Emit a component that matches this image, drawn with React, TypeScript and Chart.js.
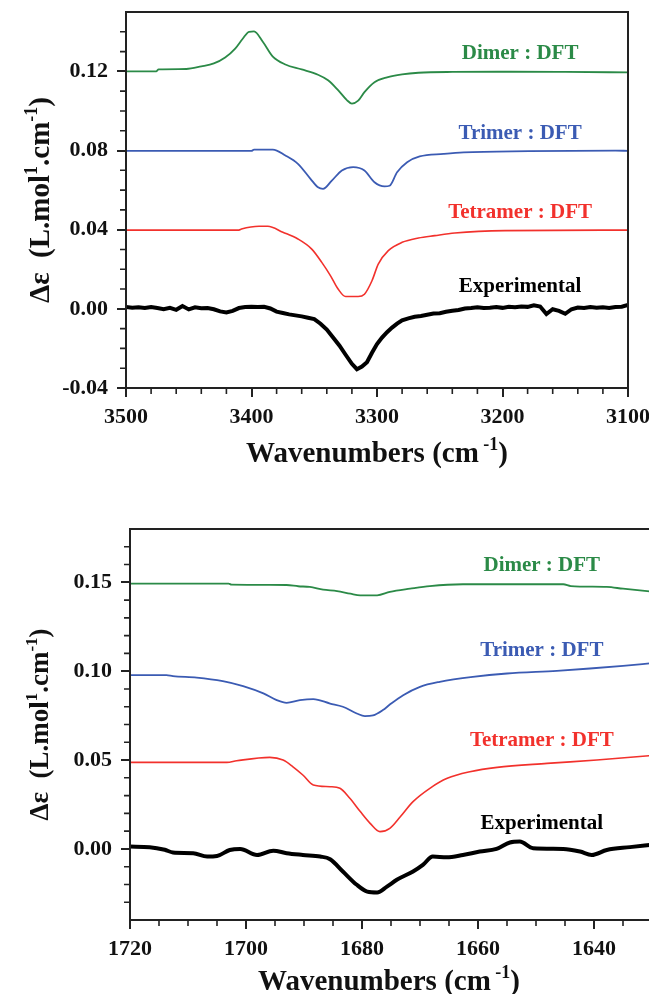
import React, { useEffect, useRef } from "react";
import { Chart, registerables } from "chart.js";
Chart.register(...registerables);

const FONT = '"Liberation Serif", "Times New Roman", serif';

// ---------- Top chart (3500 - 3100 cm-1) ----------
const topDimerX = [3500, 3476, 3474, 3452, 3440, 3430, 3421, 3413, 3407, 3402, 3398, 3391, 3383, 3373, 3360, 3347, 3339, 3331, 3324, 3320, 3315, 3310, 3302, 3292, 3280, 3267, 3240, 3194, 3150, 3100];
const topDimerY = [0.1200, 0.1200, 0.1210, 0.1212, 0.1225, 0.1240, 0.1270, 0.1315, 0.1365, 0.1400, 0.1402, 0.1350, 0.1275, 0.1235, 0.1210, 0.1183, 0.1155, 0.1105, 0.1055, 0.1037, 0.1052, 0.1095, 0.1145, 0.1170, 0.1185, 0.1193, 0.1197, 0.1198, 0.1197, 0.1195];

const topTrimerX = [3500, 3400, 3398, 3383, 3373, 3363, 3353, 3347, 3343, 3336, 3328, 3319, 3310, 3302, 3294, 3290, 3284, 3276, 3266, 3247, 3231, 3179, 3110, 3100];
const topTrimerY = [0.0798, 0.0798, 0.0805, 0.0805, 0.0775, 0.0733, 0.0657, 0.0614, 0.0606, 0.0648, 0.0699, 0.0716, 0.0699, 0.0640, 0.0619, 0.0622, 0.0690, 0.0741, 0.0770, 0.0783, 0.0791, 0.0797, 0.0800, 0.0798];

const topTetramerX = [3500, 3410, 3408, 3394, 3387, 3375, 3363, 3352, 3344, 3337, 3331, 3325, 3315, 3310, 3304, 3299, 3291, 3280, 3267, 3254, 3238, 3198, 3100];
const topTetramerY = [0.0398, 0.0398, 0.0403, 0.0417, 0.0417, 0.0387, 0.0353, 0.0302, 0.0235, 0.0167, 0.0100, 0.0062, 0.0062, 0.0074, 0.0142, 0.0226, 0.0294, 0.0336, 0.0358, 0.0370, 0.0383, 0.0395, 0.0398];

const topExpX = [3500, 3495, 3490, 3485, 3480, 3475, 3470, 3465, 3460, 3455, 3450, 3445, 3440, 3435, 3430, 3425, 3420, 3415, 3410, 3405, 3400, 3395, 3390, 3385, 3380, 3375, 3370, 3365, 3360, 3355, 3350, 3345, 3340, 3335, 3330, 3325, 3320, 3316, 3312, 3308, 3304, 3300, 3296, 3292, 3288, 3284, 3280, 3275, 3270, 3265, 3260, 3255, 3250, 3245, 3240, 3235, 3230, 3225, 3220, 3215, 3210, 3205, 3200, 3195, 3190, 3185, 3180, 3175, 3170, 3165, 3160, 3155, 3150, 3145, 3140, 3135, 3130, 3125, 3120, 3115, 3110, 3105, 3100];
const topExpY = [0.0010, 0.0006, 0.0008, 0.0004, 0.0009, 0.0004, -0.0002, 0.0005, -0.0005, 0.0014, -0.0003, 0.0008, 0.0003, 0.0004, -0.0002, -0.0013, -0.0018, -0.0010, 0.0004, 0.0009, 0.0011, 0.0009, 0.0010, 0.0002, -0.0014, -0.0021, -0.0028, -0.0033, -0.0038, -0.0045, -0.0052, -0.0075, -0.0105, -0.0145, -0.0185, -0.0232, -0.0278, -0.0305, -0.0292, -0.0270, -0.0222, -0.0178, -0.0145, -0.0118, -0.0095, -0.0075, -0.0058, -0.0048, -0.0040, -0.0036, -0.0030, -0.0024, -0.0022, -0.0015, -0.0010, -0.0006, 0.0002, 0.0004, 0.0008, 0.0004, 0.0006, 0.0009, 0.0005, 0.0011, 0.0008, 0.0012, 0.0010, 0.0018, 0.0012, -0.0026, -0.0002, -0.0010, -0.0025, -0.0002, 0.0007, 0.0004, 0.0009, 0.0005, 0.0008, 0.0004, 0.0009, 0.0011, 0.0020];

const topXMajor = [3500, 3400, 3300, 3200, 3100];
const topXMinor = [3480, 3460, 3440, 3420, 3380, 3360, 3340, 3320, 3280, 3260, 3240, 3220, 3180, 3160, 3140, 3120];
const topYMajor = [-0.04, 0.0, 0.04, 0.08, 0.12];
const topYMinor = [-0.03, -0.02, -0.01, 0.01, 0.02, 0.03, 0.05, 0.06, 0.07, 0.09, 0.10, 0.11, 0.13, 0.14];

// ---------- Bottom chart (1720 - 1630 cm-1) ----------
const botDimerX = [1720, 1703, 1702.5, 1693, 1691, 1689, 1686.7, 1684.3, 1682, 1680.3, 1677.4, 1675.2, 1671.7, 1668.3, 1662.6, 1645.3, 1644, 1637.8, 1635, 1630];
const botDimerY = [0.1493, 0.1493, 0.1487, 0.1485, 0.1478, 0.1474, 0.1459, 0.1451, 0.1436, 0.1427, 0.1427, 0.1446, 0.1464, 0.1479, 0.1489, 0.1489, 0.1479, 0.1474, 0.1464, 0.1448];

const botTrimerX = [1720, 1713.7, 1712.6, 1708.5, 1704, 1700.5, 1697, 1694.7, 1693, 1690.7, 1688.4, 1685.5, 1683.3, 1680.9, 1679.5, 1678.1, 1676.4, 1675.2, 1672.9, 1670, 1666.6, 1660.9, 1655, 1646.4, 1640.7, 1635, 1630];
const botTrimerY = [0.0978, 0.0978, 0.0972, 0.0964, 0.0944, 0.0916, 0.0875, 0.0837, 0.0822, 0.0837, 0.0843, 0.0818, 0.0800, 0.0762, 0.0747, 0.0751, 0.0781, 0.0812, 0.0865, 0.0912, 0.0940, 0.0968, 0.0987, 0.1002, 0.1015, 0.1030, 0.1045];

const botTetramerX = [1720, 1703.3, 1701.6, 1695.9, 1693.6, 1691.9, 1690.2, 1688.4, 1685.5, 1683.8, 1682.1, 1680.3, 1678.6, 1676.9, 1675.2, 1673.4, 1671.2, 1668.3, 1665.3, 1661.4, 1656.7, 1648.1, 1639.5, 1630];
const botTetramerY = [0.0487, 0.0487, 0.0496, 0.0515, 0.0500, 0.0462, 0.0416, 0.0360, 0.0350, 0.0341, 0.0285, 0.0210, 0.0144, 0.0097, 0.0116, 0.0181, 0.0266, 0.0341, 0.0397, 0.0434, 0.0459, 0.0481, 0.0500, 0.0526];

const botExpX = [1720, 1716.6, 1714, 1712.6, 1709.1, 1706.7, 1705, 1702.8, 1701, 1698.1, 1695.3, 1693, 1690.2, 1687.2, 1685.5, 1683.3, 1680.9, 1679.1, 1677.4, 1675.7, 1674, 1671.2, 1669.5, 1667.8, 1665.4, 1662.6, 1659.7, 1656.8, 1654.5, 1652.8, 1650.5, 1645.3, 1642.4, 1640.4, 1637.8, 1633.8, 1630];
const botExpY = [0.0013, 0.0010, -0.0005, -0.0020, -0.0024, -0.0043, -0.0040, -0.0006, 0.0000, -0.0034, -0.0010, -0.0024, -0.0034, -0.0043, -0.0058, -0.0127, -0.0202, -0.0240, -0.0245, -0.0212, -0.0174, -0.0127, -0.0090, -0.0043, -0.0047, -0.0034, -0.0015, 0.0000, 0.0036, 0.0041, 0.0004, 0.0000, -0.0015, -0.0034, -0.0006, 0.0010, 0.0024];

const botXMajor = [1720, 1700, 1680, 1660, 1640];
const botXMinor = [1715, 1710, 1705, 1695, 1690, 1685, 1675, 1670, 1665, 1655, 1650, 1645, 1635];
const botYMajor = [0.0, 0.05, 0.10, 0.15];
const botYMinor = [-0.03, -0.02, -0.01, 0.01, 0.02, 0.03, 0.04, 0.06, 0.07, 0.08, 0.09, 0.11, 0.12, 0.13, 0.14, 0.16, 0.17];

const seriesNames = ["Dimer : DFT", "Trimer : DFT", "Tetramer : DFT", "Experimental"];
const seriesColors = ["#2b8a47", "#3b5bb3", "#f2312c", "#000000"];

const pts = (xs: number[], ys: number[]) => xs.map((x, i) => ({ x, y: ys[i] }));

type Seg = { t: string; sup?: boolean };

function drawRich(ctx: CanvasRenderingContext2D, segs: Seg[], size: number, cx: number, baseY: number) {
  const supSize = Math.round(size * 0.62);
  const widths = segs.map((s) => {
    ctx.font = `bold ${s.sup ? supSize : size}px ${FONT}`;
    return ctx.measureText(s.t).width;
  });
  const total = widths.reduce((a, b) => a + b, 0);
  let x = cx - total / 2;
  ctx.textAlign = "left";
  ctx.textBaseline = "alphabetic";
  segs.forEach((s, i) => {
    ctx.font = `bold ${s.sup ? supSize : size}px ${FONT}`;
    ctx.fillText(s.t, x, baseY - (s.sup ? size * 0.4 : 0));
    x += widths[i];
  });
}

function makeDecor(p: any) {
  return {
    id: "decor",
    afterDraw(chart: any) {
      const { ctx, chartArea: a, scales } = chart;
      const xs = scales.x;
      const ys = scales.y;
      ctx.save();
      ctx.strokeStyle = "#222";
      ctx.lineWidth = 2;
      ctx.strokeRect(a.left, a.top, a.right - a.left, a.bottom - a.top);
      ctx.lineWidth = 1.6;
      ctx.beginPath();
      p.xMinor.forEach((v: number) => {
        const px = xs.getPixelForValue(v);
        ctx.moveTo(px, a.bottom);
        ctx.lineTo(px, a.bottom + 6);
      });
      p.yMinor.forEach((v: number) => {
        const py = ys.getPixelForValue(v);
        ctx.moveTo(a.left - 6, py);
        ctx.lineTo(a.left, py);
      });
      ctx.stroke();
      ctx.font = `bold 21px ${FONT}`;
      ctx.textAlign = "center";
      ctx.textBaseline = "middle";
      p.labels.forEach((l: any) => {
        ctx.fillStyle = l.color;
        ctx.fillText(l.text, xs.getPixelForValue(l.x), ys.getPixelForValue(l.y));
      });
      ctx.fillStyle = "#111";
      drawRich(ctx, [{ t: "Wavenumbers (cm" }, { t: " -1", sup: true }, { t: ")" }], p.xTitleSize, (a.left + a.right) / 2 + p.xTitleShift, a.bottom + p.xTitleOffset);
      ctx.save();
      ctx.translate(p.yTitleX, (a.top + a.bottom) / 2);
      ctx.rotate(-Math.PI / 2);
      drawRich(ctx, [{ t: "Δε  (L.mol" }, { t: "1", sup: true }, { t: ".cm" }, { t: "-1", sup: true }, { t: ")" }], p.yTitleSize, 0, 0);
      ctx.restore();
      ctx.restore();
    },
  };
}

function makeConfig(p: any): any {
  const tickFont = { family: FONT, size: 22, weight: "bold" as const };
  return {
    type: "line",
    data: {
      datasets: p.series.map((s: any) => ({
        data: s.data,
        borderColor: s.color,
        borderWidth: s.width,
        pointRadius: 0,
        fill: false,
        tension: 0,
        cubicInterpolationMode: s.smooth ? "monotone" : "default",
      })),
    },
    options: {
      animation: false,
      responsive: false,
      maintainAspectRatio: false,
      events: [],
      layout: { padding: { top: p.padTop, right: p.padRight, left: 0, bottom: 0 } },
      plugins: { legend: { display: false }, tooltip: { enabled: false }, title: { display: false } },
      scales: {
        x: {
          type: "linear",
          min: p.xMin,
          max: p.xMax,
          reverse: true,
          afterBuildTicks: (s: any) => {
            s.ticks = p.xMajor.map((v: number) => ({ value: v }));
          },
          afterFit: (s: any) => {
            s.height = p.xAxisH;
            s.paddingLeft = 0;
            s.paddingRight = 0;
          },
          ticks: { font: tickFont, color: "#111", padding: 7, autoSkip: false, maxRotation: 0, callback: (v: number) => String(v) },
          grid: { drawOnChartArea: false, drawTicks: true, tickLength: 9, color: "#222", lineWidth: 2 },
          border: { display: false },
        },
        y: {
          type: "linear",
          min: p.yMin,
          max: p.yMax,
          afterBuildTicks: (s: any) => {
            s.ticks = p.yMajor.map((v: number) => ({ value: v }));
          },
          afterFit: (s: any) => {
            s.width = p.yAxisW;
            s.paddingTop = 0;
            s.paddingBottom = 0;
          },
          ticks: { font: tickFont, color: "#111", padding: 9, autoSkip: false, callback: (v: number) => v.toFixed(2) },
          grid: { drawOnChartArea: false, drawTicks: true, tickLength: 9, color: "#222", lineWidth: 2 },
          border: { display: false },
        },
      },
    },
    plugins: [makeDecor(p)],
  };
}

const topParams = {
  xMin: 3100, xMax: 3500, yMin: -0.04, yMax: 0.15,
  xMajor: topXMajor, xMinor: topXMinor, yMajor: topYMajor, yMinor: topYMinor,
  padTop: 12, padRight: 21, xAxisH: 92, yAxisW: 126,
  xTitleSize: 29, xTitleOffset: 74, xTitleShift: 0, yTitleSize: 29, yTitleX: 49,
  series: [
    { data: pts(topDimerX, topDimerY), color: seriesColors[0], width: 1.8, smooth: true },
    { data: pts(topTrimerX, topTrimerY), color: seriesColors[1], width: 1.8, smooth: true },
    { data: pts(topTetramerX, topTetramerY), color: seriesColors[2], width: 1.6, smooth: true },
    { data: pts(topExpX, topExpY), color: seriesColors[3], width: 4, smooth: false },
  ],
  labels: [
    { text: seriesNames[0], color: seriesColors[0], x: 3186, y: 0.129 },
    { text: seriesNames[1], color: seriesColors[1], x: 3186, y: 0.0886 },
    { text: seriesNames[2], color: seriesColors[2], x: 3186, y: 0.0486 },
    { text: seriesNames[3], color: seriesColors[3], x: 3186, y: 0.0111 },
  ],
};

const botParams = {
  xMin: 1630, xMax: 1720, yMin: -0.04, yMax: 0.18,
  xMajor: botXMajor, xMinor: botXMinor, yMajor: botYMajor, yMinor: botYMinor,
  padTop: 49, padRight: 4, xAxisH: 74, yAxisW: 130,
  xTitleSize: 29, xTitleOffset: 70, xTitleShift: -2, yTitleSize: 27, yTitleX: 48,
  series: [
    { data: pts(botDimerX, botDimerY), color: seriesColors[0], width: 1.8, smooth: true },
    { data: pts(botTrimerX, botTrimerY), color: seriesColors[1], width: 1.8, smooth: true },
    { data: pts(botTetramerX, botTetramerY), color: seriesColors[2], width: 1.6, smooth: true },
    { data: pts(botExpX, botExpY), color: seriesColors[3], width: 4, smooth: true },
  ],
  labels: [
    { text: seriesNames[0], color: seriesColors[0], x: 1649, y: 0.1596 },
    { text: seriesNames[1], color: seriesColors[1], x: 1649, y: 0.1118 },
    { text: seriesNames[2], color: seriesColors[2], x: 1649, y: 0.0612 },
    { text: seriesNames[3], color: seriesColors[3], x: 1649, y: 0.014 },
  ],
};

function ChartCanvas({ params, width, height, top }: { params: any; width: number; height: number; top: number }) {
  const ref = useRef<HTMLCanvasElement | null>(null);
  useEffect(() => {
    if (!ref.current) return;
    const chart = new Chart(ref.current, makeConfig(params));
    return () => chart.destroy();
  }, [params]);
  return (
    <canvas
      ref={ref}
      width={width}
      height={height}
      style={{ position: "absolute", left: 0, top, width, height, display: "block" }}
    />
  );
}

export default function App() {
  return (
    <div style={{ position: "absolute", left: 0, top: 0, width: 649, height: 994, overflow: "hidden", background: "#fff" }}>
      <ChartCanvas params={topParams} width={649} height={480} top={0} />
      <ChartCanvas params={botParams} width={656} height={514} top={480} />
    </div>
  );
}
